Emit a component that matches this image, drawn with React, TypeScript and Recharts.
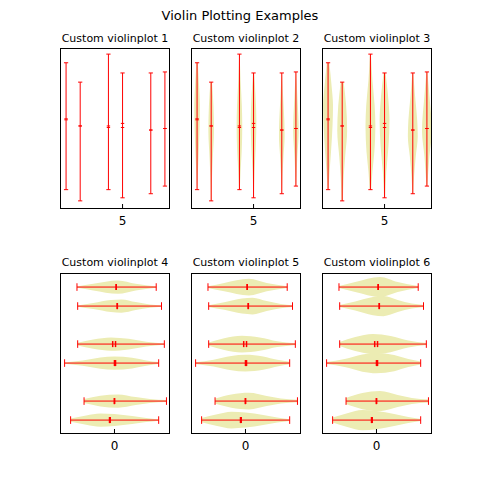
import React from 'react';
import { ComposedChart, Area, XAxis, YAxis, ReferenceLine } from 'recharts';

// violin positions and their stats
const positions = [1, 2, 4, 5, 7, 8];
const mins = [-1.24, -0.86, -1.41, -1.04, -1.04, -1.06];
const maxs = [1.25, 1.47, 1.25, 1.41, 1.33, 1.18];
const means = [-0.12, 0, 0.03, 0.03, 0.08, 0.05];
const medians = [-0.14, 0, 0, -0.05, 0.08, 0.05];

// rough density profiles: [value, relative width]
const profiles: Array<Array<[number, number]>> = [
  [[-1.24, 0.25], [-0.8, 0.7], [-0.4, 1], [0, 0.9], [0.5, 0.6], [0.9, 0.3], [1.25, 0.1]],
  [[-0.86, 0.3], [-0.4, 0.8], [0.1, 1], [0.6, 0.6], [1.0, 0.3], [1.47, 0.15]],
  [[-1.41, 0.1], [-0.9, 0.4], [-0.4, 0.85], [0, 1], [0.5, 0.8], [0.9, 0.4], [1.25, 0.15]],
  [[-1.04, 0.2], [-0.6, 0.7], [-0.1, 1], [0.4, 0.8], [0.9, 0.35], [1.41, 0.1]],
  [[-1.04, 0.1], [-0.6, 0.45], [-0.1, 0.9], [0.2, 1], [0.6, 0.6], [1.0, 0.25], [1.33, 0.1]],
  [[-1.06, 0.1], [-0.6, 0.5], [0.1, 1], [0.6, 0.5], [1.18, 0.1]],
];

const topTicks = [-1, 0, 1];
const bottomTicks = [2, 4, 6, 8];
const titles = ['Custom violinplot 1', 'Custom violinplot 2', 'Custom violinplot 3',
  'Custom violinplot 4', 'Custom violinplot 5', 'Custom violinplot 6'];
const halfWidths = [0, 0.2, 0.35, 0.35, 0.44, 0.53];

const FILL = '#ececb3';
const RED = '#ff0000';
const FONT = 'DejaVu Sans, sans-serif';

function violinData(i: number, hw: number) {
  return profiles[i].map(([v, w]) => ({ v, r: [positions[i] - w * hw, positions[i] + w * hw] }));
}

function TopPanel({ idx, left }: { idx: number; left: number }) {
  const hw = halfWidths[idx];
  const cap = 0.15;
  const mark = 0.12;
  return (
    <div style={{ position: 'absolute', left, top: 48 }}>
      <ComposedChart width={110} height={180} layout="vertical" margin={{ top: 0, right: 0, left: 0, bottom: 0 }}>
        <XAxis type="number" dataKey="p" domain={[0.57, 8.36]} ticks={[5]} allowDataOverflow
          axisLine={false} tickSize={-4} tickMargin={12} height={20}
          tick={{ fill: '#000', fontSize: 12, fontFamily: FONT }} stroke="#000" />
        <YAxis type="number" dataKey="v" domain={[-1.53, 1.61]} ticks={topTicks} allowDataOverflow
          width={0} axisLine={false} tickSize={-4} tickFormatter={() => ''} stroke="#000" />
        <YAxis yAxisId="r" orientation="right" type="number" domain={[-1.53, 1.61]} ticks={topTicks}
          allowDataOverflow width={0} axisLine={false} tickSize={-4} tickFormatter={() => ''} stroke="#000" />
        {hw > 0 && positions.map((p, i) => (
          <Area key={'a' + i} data={violinData(i, hw)} dataKey="r" type="monotone" fill={FILL}
            fillOpacity={1} stroke="none" isAnimationActive={false} />
        ))}
        {positions.map((p, i) => (
          <ReferenceLine key={'b' + i} segment={[{ x: p, y: mins[i] }, { x: p, y: maxs[i] }]} stroke={RED} strokeWidth={1} />
        ))}
        {positions.map((p, i) => (
          <ReferenceLine key={'c' + i} segment={[{ x: p - cap, y: mins[i] }, { x: p + cap, y: mins[i] }]} stroke={RED} />
        ))}
        {positions.map((p, i) => (
          <ReferenceLine key={'d' + i} segment={[{ x: p - cap, y: maxs[i] }, { x: p + cap, y: maxs[i] }]} stroke={RED} />
        ))}
        {positions.map((p, i) => (
          <ReferenceLine key={'e' + i} segment={[{ x: p - mark, y: means[i] }, { x: p + mark, y: means[i] }]} stroke={RED} />
        ))}
        {positions.map((p, i) => (
          <ReferenceLine key={'f' + i} segment={[{ x: p - mark, y: medians[i] }, { x: p + mark, y: medians[i] }]} stroke={RED} />
        ))}
      </ComposedChart>
      <div style={{ position: 'absolute', left: 0, top: 0, width: 108, height: 159, border: '1px solid #000' }} />
    </div>
  );
}

function BottomPanel({ idx, left }: { idx: number; left: number }) {
  const hw = halfWidths[idx];
  const cap = 0.2;
  const mark = 0.16;
  return (
    <div style={{ position: 'absolute', left, top: 273 }}>
      <ComposedChart width={110} height={180} margin={{ top: 0, right: 0, left: 0, bottom: 0 }}>
        <XAxis type="number" dataKey="v" domain={[-1.54, 1.57]} ticks={[0]} allowDataOverflow
          axisLine={false} tickSize={-4} tickMargin={12} height={20}
          tick={{ fill: '#000', fontSize: 12, fontFamily: FONT }} stroke="#000" />
        <YAxis type="number" domain={[0.32, 8.74]} ticks={bottomTicks} allowDataOverflow
          width={0} axisLine={false} tickSize={-4} tickFormatter={() => ''} stroke="#000" />
        <YAxis yAxisId="r" orientation="right" type="number" domain={[0.32, 8.74]} ticks={bottomTicks}
          allowDataOverflow width={0} axisLine={false} tickSize={-4} tickFormatter={() => ''} stroke="#000" />
        {positions.map((p, i) => (
          <Area key={'a' + i} data={violinData(i, hw)} dataKey="r" type="monotone" fill={FILL}
            fillOpacity={1} stroke="none" isAnimationActive={false} />
        ))}
        {positions.map((p, i) => (
          <ReferenceLine key={'b' + i} segment={[{ x: mins[i], y: p }, { x: maxs[i], y: p }]} stroke={RED} />
        ))}
        {positions.map((p, i) => (
          <ReferenceLine key={'c' + i} segment={[{ x: mins[i], y: p - cap }, { x: mins[i], y: p + cap }]} stroke={RED} />
        ))}
        {positions.map((p, i) => (
          <ReferenceLine key={'d' + i} segment={[{ x: maxs[i], y: p - cap }, { x: maxs[i], y: p + cap }]} stroke={RED} />
        ))}
        {positions.map((p, i) => (
          <ReferenceLine key={'e' + i} segment={[{ x: means[i], y: p - mark }, { x: means[i], y: p + mark }]} stroke={RED} strokeWidth={1.5} />
        ))}
        {positions.map((p, i) => (
          <ReferenceLine key={'f' + i} segment={[{ x: medians[i], y: p - mark }, { x: medians[i], y: p + mark }]} stroke={RED} strokeWidth={1.5} />
        ))}
      </ComposedChart>
      <div style={{ position: 'absolute', left: 0, top: 0, width: 108, height: 159, border: '1px solid #000' }} />
    </div>
  );
}

const lefts = [60, 191, 322];

export default function App() {
  return (
    <div style={{ position: 'absolute', left: 0, top: 0, width: 480, height: 480, background: '#fff', fontFamily: FONT }}>
      <div style={{ position: 'absolute', top: 8, width: 480, textAlign: 'center', fontSize: 13 }}>Violin Plotting Examples</div>
      {lefts.map((l, k) => (
        <div key={'t' + k} style={{ position: 'absolute', left: l, top: 32, width: 110, textAlign: 'center', fontSize: 11 }}>{titles[k]}</div>
      ))}
      {lefts.map((l, k) => (
        <div key={'u' + k} style={{ position: 'absolute', left: l, top: 256, width: 110, textAlign: 'center', fontSize: 11 }}>{titles[k + 3]}</div>
      ))}
      {lefts.map((l, k) => <TopPanel key={'p' + k} idx={k} left={l} />)}
      {lefts.map((l, k) => <BottomPanel key={'q' + k} idx={k + 3} left={l} />)}
    </div>
  );
}
